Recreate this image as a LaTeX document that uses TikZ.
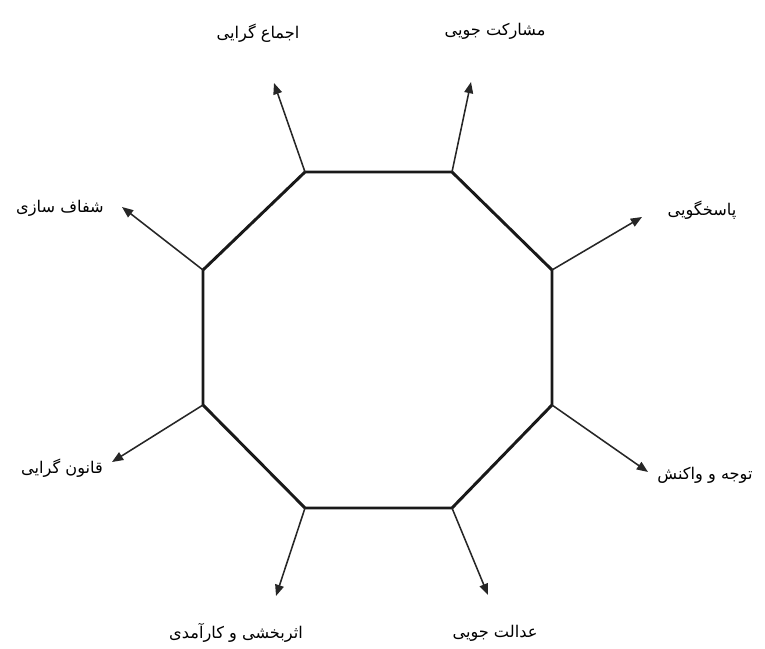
\documentclass[tikz,border=0pt]{standalone}
\usepackage{fontspec}
\usetikzlibrary{arrows.meta}
\TeXXeTstate=1
\newfontfamily\arabicfont[Script=Arabic]{DejaVu Sans}
\tikzset{
  octa edge/.style={line width=2.1pt,line join=round,draw=black!90},
  out arrow/.style={-{Triangle[length=2.8mm,width=2.2mm]},line width=1.1pt,draw=black!85},
  goal label/.style={font=\arabicfont\fontsize{11.5}{13}\selectfont,text=black,inner sep=1pt}
}
\newcommand{\rtl}[1]{\beginR #1\endR}

\begin{document}
\begin{tikzpicture}[x=0.025cm,y=-0.025cm]
        \useasboundingbox (0,0) rectangle (765,649);
        % corners of the octagon
        \coordinate (tl) at (305,172);
        \coordinate (tr) at (452,172);
        \coordinate (rt) at (552,270);
        \coordinate (rb) at (552,405);
        \coordinate (br) at (452,508);
        \coordinate (bl) at (305,508);
        \coordinate (lb) at (203,405);
        \coordinate (lt) at (203,270);
        \draw[octa edge] (tl) -- (tr) -- (rt) -- (rb) -- (br) -- (bl) -- (lb) -- (lt) -- cycle;
        % arrow ends
        \coordinate (tlEnd) at (274,83);
        \coordinate (trEnd) at (471,82);
        \coordinate (rtEnd) at (642,217);
        \coordinate (rbEnd) at (648,472);
        \coordinate (brEnd) at (488,595);
        \coordinate (blEnd) at (276,596);
        \coordinate (lbEnd) at (112,462);
        \coordinate (ltEnd) at (122,207);
        \draw[out arrow] (tl) -- (tlEnd);
        \draw[out arrow] (tr) -- (trEnd);
        \draw[out arrow] (rt) -- (rtEnd);
        \draw[out arrow] (rb) -- (rbEnd);
        \draw[out arrow] (br) -- (brEnd);
        \draw[out arrow] (bl) -- (blEnd);
        \draw[out arrow] (lb) -- (lbEnd);
        \draw[out arrow] (lt) -- (ltEnd);
        % labels
        \node[goal label] (consensus) at (258,33) {\rtl{اجماع گرایی}};
        \node[goal label] (participation) at (495,31) {\rtl{مشارکت جویی}};
        \node[goal label] (accountability) at (702,210) {\rtl{پاسخگویی}};
        \node[goal label] (responsiveness) at (705,475) {\rtl{توجه و واکنش}};
        \node[goal label] (equity) at (495,633) {\rtl{عدالت جویی}};
        \node[goal label] (efficiency) at (236,633) {\rtl{اثربخشی و کارآمدی}};
        \node[goal label] (lawrule) at (62,468) {\rtl{قانون گرایی}};
        \node[goal label] (transparency) at (60,208) {\rtl{شفاف سازی}};
      \end{tikzpicture}
\end{document}
